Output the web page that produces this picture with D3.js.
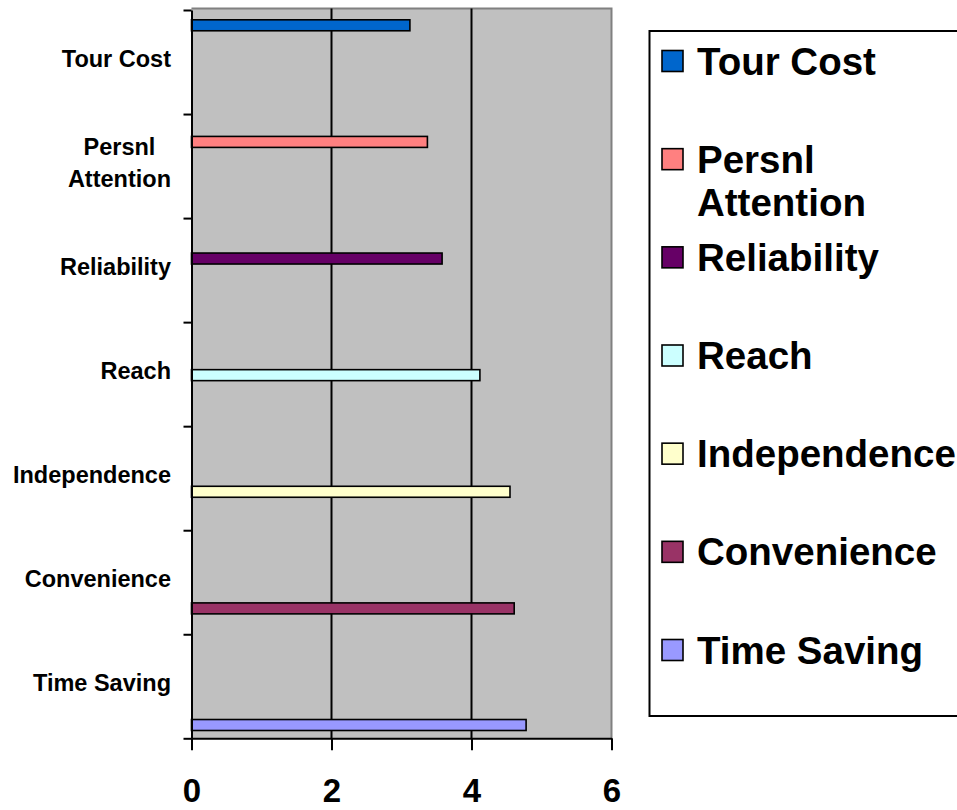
<!DOCTYPE html>
<html>
<head>
<meta charset="utf-8">
<script src="https://cdn.jsdelivr.net/npm/d3@7"></script>
<style>
  html, body { margin: 0; padding: 0; background: #ffffff; }
  svg { display: block; font-family: "Liberation Sans", Arial, sans-serif; }
</style>
</head>
<body>
<svg id="chart" width="957" height="810"></svg>
<script>
// Ratings per attribute, listed top to bottom
const categories = ["Tour Cost", "Persnl Attention", "Reliability", "Reach", "Independence", "Convenience", "Time Saving"];
const labelLines = [["Tour Cost"], ["Persnl", "Attention"], ["Reliability"], ["Reach"], ["Independence"], ["Convenience"], ["Time Saving"]];
const values = [3.12, 3.37, 3.58, 4.12, 4.55, 4.61, 4.78];
const colors = ["#0066CC", "#FF8080", "#660066", "#CCFFFF", "#FFFFCC", "#993366", "#9999FF"];
const xTicks = [0, 2, 4, 6];

const svg = d3.select("#chart");

const plot = { left: 191.5, right: 611.5, top: 10, bottom: 738.3 };

const x = d3.scaleLinear().domain([0, 6]).range([plot.left, plot.right]);
const y = d3.scaleBand().domain(categories).range([plot.top, plot.bottom]).padding(0);
// each attribute is its own series, placed in its own slot of the cluster
const slot = d3.scaleBand().domain(categories).range([9, y.bandwidth() - 7]).padding(0);

// plot background
svg.append("rect")
  .attr("x", plot.left).attr("y", plot.top - 1.5)
  .attr("width", plot.right - plot.left).attr("height", plot.bottom - plot.top + 1.5)
  .attr("fill", "#C0C0C0");

// grey frame on top and right
svg.append("path")
  .attr("d", `M${plot.left},${plot.top - 1.5}H${plot.right}V${plot.bottom}`)
  .attr("fill", "none").attr("stroke", "#808080").attr("stroke-width", 2);

// vertical gridlines
svg.append("g").selectAll("line")
  .data(xTicks.filter(d => d > 0 && d < 6))
  .join("line")
  .attr("x1", d => x(d)).attr("x2", d => x(d))
  .attr("y1", plot.top - 1.5).attr("y2", plot.bottom)
  .attr("stroke", "#000").attr("stroke-width", 2);

// bars
svg.append("g").selectAll("rect")
  .data(categories.map((c, i) => ({ c, v: values[i], col: colors[i] })))
  .join("rect")
  .attr("x", x(0))
  .attr("y", d => y(d.c) + slot(d.c) + 0.8)
  .attr("width", d => x(d.v) - x(0))
  .attr("height", slot.bandwidth() - 1.6)
  .attr("fill", d => d.col)
  .attr("stroke", "#000").attr("stroke-width", 1.6);

// category axis with ticks between categories
const yEdges = d3.scaleLinear().domain([0, categories.length]).range([plot.top, plot.bottom]);
const yAxis = svg.append("g")
  .attr("transform", `translate(${plot.left},0)`)
  .call(d3.axisLeft(yEdges).tickValues(d3.range(categories.length + 1)).tickSize(8).tickFormat("").tickSizeOuter(0));
yAxis.selectAll("path, line").attr("stroke", "#000").attr("stroke-width", 2);

// category labels: right-aligned block, lines centred within it
const labels = svg.append("g");
const labelRight = 171;
categories.forEach((c, i) => {
  const lines = labelLines[i];
  const cy = y(c) + y.bandwidth() / 2;
  const lh = 31.7;
  const base = cy + 5 - (lines.length - 1) * lh / 2;
  const g = labels.append("g");
  const tspans = lines.map((ln, j) => g.append("text")
    .attr("font-size", 23.5)
    .attr("font-weight", "bold")
    .attr("fill", "#000")
    .attr("text-anchor", "middle")
    .attr("y", base + j * lh)
    .text(ln));
  const w = d3.max(tspans, t => t.node().getComputedTextLength());
  tspans.forEach(t => t.attr("x", labelRight - w / 2));
});

// value axis
const xAxis = svg.append("g")
  .attr("transform", `translate(0,${plot.bottom})`)
  .call(d3.axisBottom(x).tickValues(xTicks).tickSize(12).tickSizeOuter(0).tickFormat(d3.format("d")));
xAxis.selectAll("path, line").attr("stroke", "#000").attr("stroke-width", 2);
xAxis.selectAll("text")
  .attr("y", 64).attr("dy", 0)
  .attr("font-size", 33).attr("font-weight", "bold")
  .attr("font-family", "Liberation Sans, Arial, sans-serif")
  .attr("fill", "#000");

// legend
const legend = svg.append("g");
legend.append("rect")
  .attr("x", 649.5).attr("y", 31)
  .attr("width", 330).attr("height", 685)
  .attr("fill", "#fff").attr("stroke", "#000").attr("stroke-width", 2);

const legendY = d3.scalePoint().domain(categories).range([61, 650]);
categories.forEach((c, i) => {
  const cy = legendY(c);
  legend.append("rect")
    .attr("x", 662).attr("y", cy - 10.5)
    .attr("width", 21).attr("height", 21)
    .attr("fill", colors[i]).attr("stroke", "#000").attr("stroke-width", 1.6);
  const t = legend.append("text")
    .attr("font-size", 38.5).attr("font-weight", "bold").attr("fill", "#000");
  labelLines[i].forEach((ln, j) => {
    t.append("tspan").attr("x", 697).attr("y", cy + 13.5 + j * 43.7).text(ln);
  });
});
</script>
</body>
</html>
